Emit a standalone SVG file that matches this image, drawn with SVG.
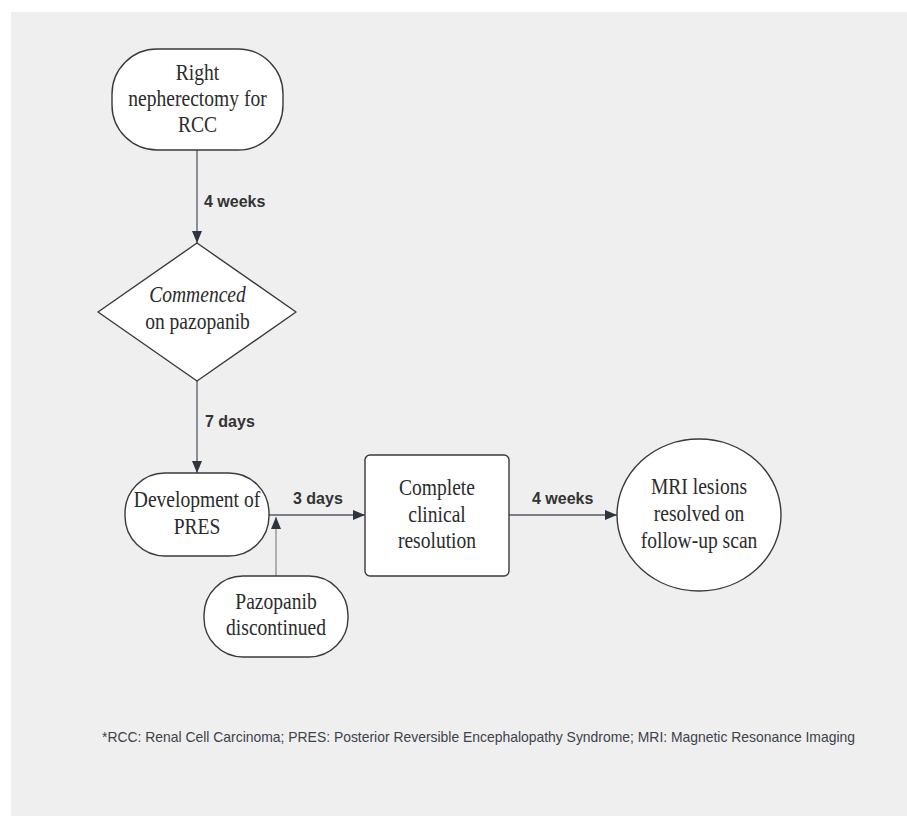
<svg xmlns="http://www.w3.org/2000/svg" width="907" height="816" viewBox="0 0 907 816">
<defs>
<style>
.node{fill:#ffffff;stroke:#3a3a3a;stroke-width:1.4}
.t{font-family:"Liberation Serif","Times New Roman",serif;font-size:23px;fill:#2b2b2b;text-anchor:middle}
.lbl{font-family:"Liberation Sans",Arial,sans-serif;font-size:16px;font-weight:bold;fill:#333333}
.conn{stroke:#555a63;stroke-width:1.3;fill:none}
.conn2{stroke:#8a8d92;stroke-width:1.3;fill:none}
.foot{font-family:"Liberation Sans",Arial,sans-serif;font-size:14.5px;fill:#3d424c}
</style>
<marker id="ah" viewBox="0 0 12 10" refX="12" refY="5" markerWidth="12" markerHeight="10" markerUnits="userSpaceOnUse" orient="auto">
<path d="M0,0 L12,5 L0,10 Z" fill="#2e3440"/>
</marker>
</defs>
<rect x="0" y="0" width="907" height="816" fill="#ffffff"/>
<rect x="11" y="12" width="896" height="804" fill="#efefef"/>

<g id="connectors">
<line class="conn" x1="197" y1="150" x2="197" y2="243" marker-end="url(#ah)"/>
<line class="conn" x1="197" y1="381" x2="197" y2="473" marker-end="url(#ah)"/>
<line class="conn" x1="269" y1="515" x2="365" y2="515" marker-end="url(#ah)"/>
<line class="conn2" x1="276" y1="576" x2="276" y2="517" marker-end="url(#ah)"/>
<line class="conn" x1="509" y1="515" x2="617" y2="515" marker-end="url(#ah)"/>
<text class="lbl" x="204" y="207">4 weeks</text>
<text class="lbl" x="205" y="427">7 days</text>
<text class="lbl" x="293" y="504">3 days</text>
<text class="lbl" x="532" y="504">4 weeks</text>
</g>

<g id="n-nephrectomy">
<rect class="node" x="112" y="49" width="171" height="101" rx="45" ry="45"/>
<g transform="translate(197.5,0) scale(0.85,1)">
<text class="t" x="0" y="80">Right</text>
<text class="t" x="0" y="106">nepherectomy for</text>
<text class="t" x="0" y="132">RCC</text>
</g>
</g>

<g id="n-commenced">
<polygon class="node" points="197,243 296,312 197,381 98,312" stroke-linejoin="round"/>
<g transform="translate(197.5,0) scale(0.85,1)">
<text class="t" x="0" y="302" font-style="italic">Commenced</text>
<text class="t" x="0" y="329">on pazopanib</text>
</g>
</g>

<g id="n-pres">
<rect class="node" x="125" y="473" width="144" height="83" rx="40" ry="40"/>
<g transform="translate(197,0) scale(0.85,1)">
<text class="t" x="0" y="507">Development of</text>
<text class="t" x="0" y="534">PRES</text>
</g>
</g>

<g id="n-discontinued">
<rect class="node" x="204" y="576" width="144" height="81" rx="39" ry="39"/>
<g transform="translate(276,0) scale(0.85,1)">
<text class="t" x="0" y="609">Pazopanib</text>
<text class="t" x="0" y="635">discontinued</text>
</g>
</g>

<g id="n-resolution">
<rect class="node" x="365" y="455" width="144" height="121" rx="5" ry="5"/>
<g transform="translate(437,0) scale(0.85,1)">
<text class="t" x="0" y="495">Complete</text>
<text class="t" x="0" y="522">clinical</text>
<text class="t" x="0" y="548">resolution</text>
</g>
</g>

<g id="n-mri">
<ellipse class="node" cx="699" cy="515" rx="82" ry="76"/>
<g transform="translate(699,0) scale(0.85,1)">
<text class="t" x="0" y="494">MRI lesions</text>
<text class="t" x="0" y="521">resolved on</text>
<text class="t" x="0" y="548">follow-up scan</text>
</g>
</g>

<text class="foot" x="102" y="742" textLength="753" lengthAdjust="spacingAndGlyphs">*RCC: Renal Cell Carcinoma; PRES: Posterior Reversible Encephalopathy Syndrome; MRI: Magnetic Resonance Imaging</text>
</svg>
